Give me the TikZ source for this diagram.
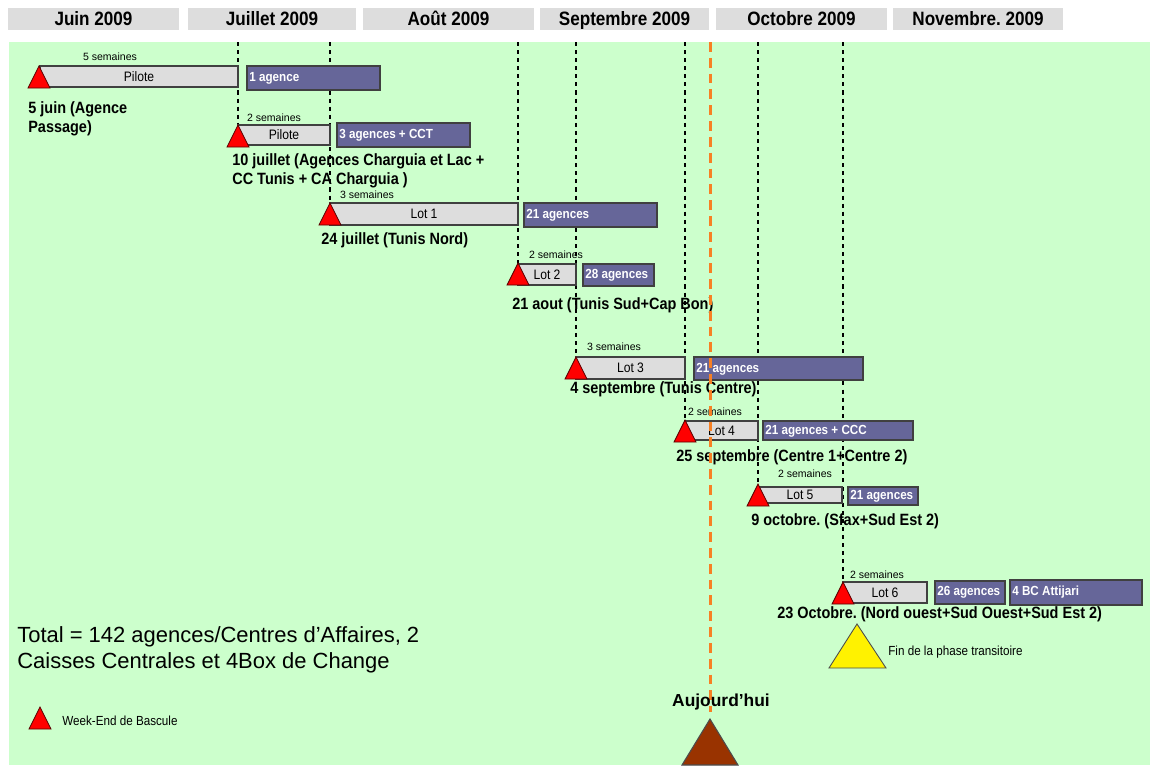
\documentclass[tikz,border=0pt]{standalone}
\usepackage{fontspec}
\setmainfont{Liberation Sans}
\newfontfamily\etroit{Liberation Sans}[FakeStretch=0.885]
\usepackage{tikz}
\usetikzlibrary{positioning}
\definecolor{vertfond}{RGB}{204,255,204}
\definecolor{grisbarre}{RGB}{221,221,221}
\definecolor{violetlot}{RGB}{102,102,153}
\definecolor{orangeauj}{RGB}{247,128,36}
\definecolor{brunauj}{RGB}{153,51,0}
\frenchspacing

\begin{document}
\begin{tikzpicture}[x=0.02cm, y=-0.02cm,
	mois/.style={font=\etroit\bfseries\fontsize{11}{12}\selectfont, text=black, text height=1.6ex, text depth=0.3ex},
	duree/.style={fill=grisbarre, draw=black!75, line width=0.6pt},
	agences/.style={fill=violetlot, draw=black!75, line width=0.6pt},
	txtlot/.style={font=\etroit\fontsize{7.8}{9}\selectfont, inner sep=0pt},
	txtag/.style={font=\etroit\bfseries\fontsize{7.5}{9}\selectfont, text=white, anchor=west, inner sep=0pt},
	sem/.style={font=\fontsize{6}{7}\selectfont, inner sep=0pt},
	date/.style={font=\etroit\bfseries\fontsize{9.3}{10.8}\selectfont, align=left, anchor=west, inner sep=0pt},
	bascule/.style={fill=red, draw=red!35!black, line width=0.5pt},
	repere/.style={line width=0.6pt, dash pattern=on 2.3pt off 2.3pt},
	aujlig/.style={draw=orangeauj, line width=1.7pt, dash pattern=on 5.6pt off 3.4pt},
	petit/.style={font=\etroit\fontsize{7.5}{9}\selectfont, anchor=west, inner sep=0pt}] %%%{{{
	 \useasboundingbox (0,0) rectangle (1150,765);
	 \fill[vertfond] (9,42) rectangle (1150,765);
	 \coordinate (haut) at (0,42);
	 % mois
	 \foreach \xa/\xb/\m [count=\i] in {8/179/Juin 2009, 188/356/Juillet 2009, 363/534/Août 2009, 540/709/Septembre 2009, 716/887/Octobre 2009, 893/1063/Novembre. 2009}
	 	\fill[grisbarre] (\xa,8) rectangle (\xb,30) node[midway, mois] (mois\i) {\m};
	 % debuts des lots
	 \coordinate (T1) at (39,66);
	 \coordinate (T2) at (238,125);
	 \coordinate (T3) at (330,203);
	 \coordinate (T4) at (518,263);
	 \coordinate (T5) at (576,357);
	 \coordinate (T6) at (685,420);
	 \coordinate (T7) at (758,484);
	 \coordinate (T8) at (843,582);
	 \coordinate (L) at (40,707);
	 \foreach \t in {T2,T3,T4,T5,T6,T7,T8} \draw[repere] (\t |- haut) -- (\t);
	 \draw[duree] (40,66) rectangle (238,87) node[midway, txtlot] (lot1) {Pilote};
	 \draw[agences] (247,66) rectangle (380,90);
	 \node[txtag] (ag1) at (249,78) {1 agence};
	 \node[sem] (sem1) at (110,57) {5 semaines};
	 \node[date] (d1) at (28,119) {5 juin (Agence\\Passage)};
	 \draw[duree] (238,125) rectangle (330,145) node[midway, txtlot] (lot2) {Pilote};
	 \draw[agences] (337,123) rectangle (470,147);
	 \node[txtag] (ag2) at (339,135) {3 agences + CCT};
	 \node[sem] (sem2) at (274,118) {2 semaines};
	 \node[date] (d2) at (232,171) {10 juillet (Agences Charguia et Lac +\\CC Tunis + CA Charguia )};
	 \draw[duree] (330,203) rectangle (518,225) node[midway, txtlot] (lot3) {Lot 1};
	 \draw[agences] (524,203) rectangle (657,227);
	 \node[txtag] (ag3) at (526,215) {21 agences};
	 \node[sem] (sem3) at (367,195) {3 semaines};
	 \node[date] (d3) at (321,240) {24 juillet (Tunis Nord)};
	 \draw[duree] (518,264) rectangle (576,285) node[midway, txtlot] (lot4) {Lot 2};
	 \draw[agences] (583,264) rectangle (654,286);
	 \node[txtag] (ag4) at (585,275) {28 agences};
	 \node[sem] (sem4) at (556,255) {2 semaines};
	 \node[date] (d4) at (512,305) {21 aout (Tunis Sud+Cap Bon)};
	 \draw[duree] (576,357) rectangle (685,379) node[midway, txtlot] (lot5) {Lot 3};
	 \draw[agences] (694,357) rectangle (863,380);
	 \node[txtag] (ag5) at (696,369) {21 agences};
	 \node[sem] (sem5) at (614,347) {3 semaines};
	 \node[date] (d5) at (570,389) {4 septembre (Tunis Centre)};
	 \draw[duree] (685,421) rectangle (758,440) node[midway, txtlot] (lot6) {Lot 4};
	 \draw[agences] (763,421) rectangle (913,440);
	 \node[txtag] (ag6) at (765,431) {21 agences + CCC};
	 \node[sem] (sem6) at (715,412) {2 semaines};
	 \node[date] (d6) at (676,457) {25 septembre (Centre 1+Centre 2)};
	 \draw[duree] (758,487) rectangle (842,503) node[midway, txtlot] (lot7) {Lot 5};
	 \draw[agences] (848,487) rectangle (918,505);
	 \node[txtag] (ag7) at (850,496) {21 agences};
	 \node[sem] (sem7) at (805,474) {2 semaines};
	 \node[date] (d7) at (751,521) {9 octobre. (Sfax+Sud Est 2)};
	 \draw[duree] (843,582) rectangle (927,603) node[midway, txtlot] (lot8) {Lot 6};
	 \draw[agences] (935,581) rectangle (1005,604);
	 \node[txtag] (ag8) at (937,592) {26 agences};
	 \draw[agences] (1010,580) rectangle (1142,605);
	 \node[txtag] (ag9) at (1012,592) {4 BC Attijari};
	 \node[sem] (sem8) at (877,575) {2 semaines};
	 \node[date] (d8) at (777,614) {23 Octobre. (Nord ouest+Sud Ouest+Sud Est 2)};
	 \foreach \t in {T1,T2,T3,T4,T5,T6,T7,T8,L} \filldraw[bascule] (\t) -- ++(11,22) -- ++(-22,0) -- cycle;
	 % fin et aujourd'hui
	 \filldraw[fill=yellow, draw=black!70, line width=0.5pt] (857,624) -- (886,668) -- (829,668) -- cycle;
	 \node[petit] (fin) at (888,652) {Fin de la phase transitoire};
	 \node[font=\fontsize{12.5}{14.7}\selectfont, align=left, anchor=west, inner sep=0pt] (total) at (17,650) {Total = 142 agences/Centres d’Affaires, 2\\Caisses Centrales et 4Box de Change};
	 \node[petit] (legende) at (62,721) {Week-End de Bascule};
	 \coordinate (A) at (710,719);
	 \coordinate (Afin) at (710,712);
	 \draw[aujlig] (A |- haut) -- (Afin);
	 \node[font=\bfseries\fontsize{9.9}{11}\selectfont, inner sep=0pt] (auj) at (721,702) {Aujourd’hui};
	 \filldraw[fill=brunauj, draw=black!70, line width=0.6pt] (A) -- (738,765) -- (682,765) -- cycle;
\end{tikzpicture}
\end{document}
